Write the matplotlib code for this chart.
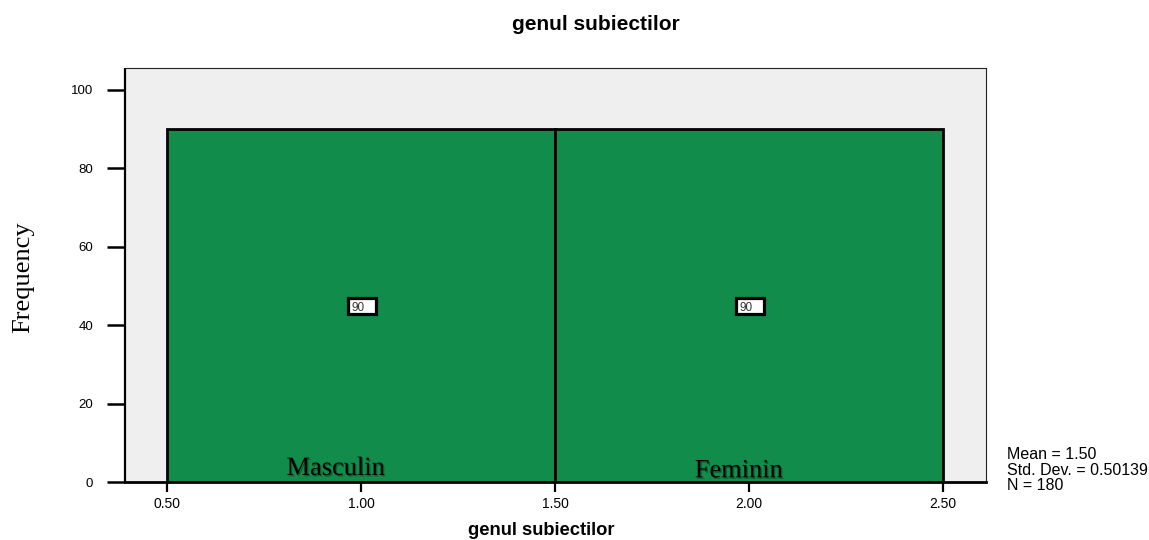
"""
SPSS-style histogram of 'genul subiectilor' (Masculin / Feminin), 90 each.
"""

import numpy as np
import matplotlib
matplotlib.use("Agg")
import matplotlib.pyplot as plt
import matplotlib.patheffects as pe
from matplotlib.patches import Rectangle

# data
categories = ["Masculin", "Feminin"]
codes = [1.0, 2.0]
counts = [90, 90]
x_ticks = [0.5, 1.0, 1.5, 2.0, 2.5]
y_ticks = [0, 20, 40, 60, 80, 100]
title = "genul subiectilor"

GREEN = "#118C4A"
BG = "#EFEFEF"
SANS = "Liberation Sans"
SERIF = "Liberation Serif"

# summary stats from the counts
vals = np.repeat(codes, counts)
mean = vals.mean()
sd = vals.std(ddof=1)
n = len(vals)

fig = plt.figure(figsize=(11.49, 5.40), dpi=100)
ax = fig.add_axes([0.1088, 0.1074, 0.7493, 0.7667])
ax.set_facecolor(BG)

ax.bar(codes, counts, width=1.0, color=GREEN, edgecolor="black", linewidth=2, zorder=2)

# count boxes in the middle of each bar
for c, v in zip(codes, counts):
    ax.add_patch(Rectangle((c - 0.034, v / 2 - 2.05), 0.072, 4.1, facecolor="white",
                           edgecolor="black", linewidth=2.3, zorder=3))
    ax.text(c - 0.024, v / 2 - 0.2, str(v), fontsize=8.5, family=SANS, color="#333333",
            ha="left", va="center_baseline", zorder=4)

# category labels near the base of the bars
shadow = [pe.SimplePatchShadow(offset=(1, -1), shadow_rgbFace="black", alpha=0.35), pe.Normal()]
offsets = [(-0.065, 1.8), (-0.026, 1.2)]
for c, lab, (dx, y0) in zip(codes, categories, offsets):
    ax.text(c + dx, y0, lab, fontsize=19, family=SERIF, ha="center", va="baseline",
            zorder=4, path_effects=shadow)

ax.set_xlim(0.3918, 2.611)
ax.set_ylim(0, 105.6)
ax.set_xticks(x_ticks)
ax.set_xticklabels([f"{t:.2f}" for t in x_ticks], family=SANS, fontsize=10)
ax.set_yticks(y_ticks)
ax.set_yticklabels([str(t) for t in y_ticks], family=SANS, fontsize=9.5)
ax.tick_params(axis="x", length=7, width=1.6, pad=4)
ax.tick_params(axis="y", length=13, width=1.8, pad=10)

ax.spines["left"].set_linewidth(1.6)
ax.spines["left"].set_capstyle("butt")
ax.spines["bottom"].set_linewidth(2)
ax.spines["top"].set_linewidth(0.8)
ax.spines["right"].set_linewidth(0.8)
ax.spines["top"].set_color("#222222")
ax.spines["right"].set_color("#222222")

fig.text(0.519, 0.954, title, fontsize=15, fontweight="bold", family=SANS,
         ha="center", va="center")
fig.text(0.471, 0.0185, title, fontsize=13.2, fontweight="bold", family=SANS,
         ha="center", va="center")
fig.text(0.020, 0.487, "Frequency", fontsize=19, family=SERIF, rotation=90,
         ha="center", va="center")

stats = f"Mean = {mean:.2f}\nStd. Dev. = {sd:.5f}\nN = {n}"
fig.text(0.8764, 0.1296, stats, fontsize=11.5, family=SANS, ha="left", va="center",
         linespacing=1.05)

fig.savefig("out.png", dpi=100)
